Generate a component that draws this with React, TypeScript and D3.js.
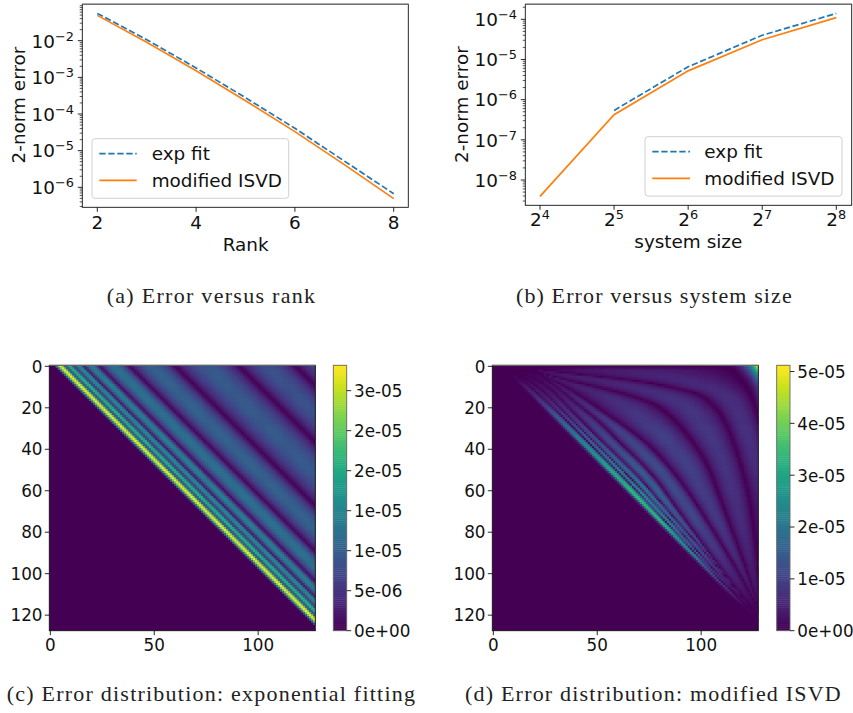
import React, { useEffect, useRef } from "react";
import * as d3 from "d3";

// ---- line charts ----
const ranks = [2, 3, 4, 5, 6, 7, 8];
const rankExpFit = [0.0556, 0.01064, 0.0018, 2.79e-4, 4.07e-5, 5.2e-6, 6.7e-7];
const rankIsvd = [0.0491, 0.00901, 0.00152, 2.31e-4, 3.3e-5, 4.15e-6, 4.9e-7];
const sizes = [16, 32, 64, 128, 256];
const sizeExpFitSizes = [32, 64, 128, 256];
const sizeExpFit = [5.4e-7, 6.6e-6, 4.0e-5, 1.4e-4];
const sizeIsvd = [3.9e-9, 4.2e-7, 5.2e-6, 3.1e-5, 1.1e-4];
const rankTicks = [2, 4, 6, 8];
const rankDecades = [-2, -3, -4, -5, -6];
const sizeExponents = [4, 5, 6, 7, 8];
const sizeDecades = [-4, -5, -6, -7, -8];
const legendLabels = ["exp fit", "modified ISVD"];
const captions = [
  "(a) Error versus rank",
  "(b) Error versus system size",
  "(c) Error distribution: exponential fitting",
  "(d) Error distribution: modified ISVD",
];

// ---- heatmaps ----
// A 128x128 field cannot be read cell by cell, so the cells are rebuilt from what can
// be read: the dark node lines between the stripes and the peak value of each stripe.
const N = 128;
const heatXTicks = [0, 50, 100];
const heatYTicks = [0, 20, 40, 60, 80, 100, 120];
const lobeProfile = [0, 0.42, 0.72, 0.92, 1, 0.92, 0.72, 0.42, 0];

// (c): depends on the offset column - row only
const cNodeOffsets = [2.6, 7.4, 11.4, 16.2, 23.5, 38, 60, 91, 118, 150];
const cLobePeaks = [3.32e-5, 2.25e-5, 1.65e-5, 1.45e-5, 1.25e-5, 1.05e-5, 9.5e-6, 8.5e-6, 9e-6];
const cMax = 3.317e-5;
const cBarValues = [0, 5e-6, 1e-5, 1.5e-5, 2e-5, 2.5e-5, 3e-5];
const cBarLabels = ["0e+00", "5e-06", "1e-05", "1e-05", "2e-05", "2e-05", "3e-05"];

// (d): node lines as [col, row], from the diagonal outwards
const dEdgeOffset = 3.8;
const dNode0 = [[12, 5], [23.5, 15], [35, 26], [64.2, 55], [83, 75], [95.5, 88.5], [107, 101], [122, 116]];
const dNode1 = [[14, 5], [21, 9], [38.4, 26.4], [67, 55], [86, 75], [97.2, 88.2], [109, 101.5], [122, 115.5]];
const dNode2 = [[15, 4], [24, 7], [42.4, 26.4], [71, 54.5], [88.5, 75], [100.8, 88.2], [111.5, 101.5], [122.2, 115]];
const dNode3 = [[26, 6], [40, 18], [51, 26.4], [61.5, 37.6], [69.5, 44.9], [78.5, 54.5], [85.6, 65], [98.4, 82.6], [111.2, 100.3], [123, 115]];
const dNode4 = [[24, 4], [40, 13], [61.5, 28], [71, 34.4], [80.7, 44], [88.8, 53.7], [96.8, 65], [108, 82.6], [117.7, 98.7], [124.9, 111.6]];
const dNode5 = [[22, 3], [40, 8], [61.5, 12.7], [71, 14.3], [82.3, 20.7], [93.6, 32.8], [103.2, 47.3], [109.6, 65], [118.5, 89], [124, 105], [127, 114]];
const dNode6 = [[20, 1.5], [53.5, 5.5], [82.3, 7.9], [96.8, 11.1], [108, 19.9], [114.4, 32.8], [120, 50.5], [123.3, 65], [126.5, 89], [128, 108.4]];
const dNode7 = [[114, 0], [115, 1], [120.5, 7.9], [125, 16], [127.6, 24.8]];
const dPeakRows = [0, 2, 5, 15, 30, 45, 60, 75, 90, 105, 115, 127];
const dPeaks0 = [0, 0, 0.05, 0.7, 2.0, 3.0, 3.6, 3.5, 2.5, 1.0, 0.1, 0];
const dPeaks1 = [0, 0, 0.04, 0.5, 1.3, 2.1, 2.6, 2.4, 1.6, 0.6, 0.1, 0];
const dPeaks2 = [0, 0, 0.06, 0.45, 1.1, 1.7, 2.1, 1.9, 1.2, 0.5, 0.1, 0];
const dPeaks3 = [0, 0.02, 0.1, 0.45, 1.0, 1.4, 1.6, 1.4, 1.0, 0.5, 0.1, 0];
const dPeaks4 = [0, 0.05, 0.2, 0.55, 1.0, 1.2, 1.2, 1.1, 0.8, 0.4, 0.1, 0];
const dPeaks5 = [0, 0.1, 0.3, 0.65, 0.95, 1.0, 0.95, 0.85, 0.65, 0.35, 0.1, 0];
const dPeaks6 = [0, 0.2, 0.45, 0.75, 0.85, 0.8, 0.75, 0.65, 0.5, 0.3, 0.1, 0];
const dPeaks7 = [0, 0.45, 0.55, 0.7, 0.75, 0.7, 0.6, 0.5, 0.4, 0.25, 0.1, 0];
const dCornerRows = [0, 3, 6, 10, 16, 25];
const dCornerPeaks = [5.12, 3.4, 2.1, 1.1, 0.6, 0.1];
const dCornerProfile = [0, 0.03, 0.07, 0.13, 0.22, 0.33, 0.5, 0.72, 1];
const dMax = 5.12e-5;
const dBarValues = [0, 1e-5, 2e-5, 3e-5, 4e-5, 5e-5];
const dBarLabels = ["0e+00", "1e-05", "2e-05", "3e-05", "4e-05", "5e-05"];

const SANS = "'DejaVu Sans', sans-serif";
const SERIF = "'Liberation Serif', serif";
const BLUE = "#1f77b4";
const ORANGE = "#ff7f0e";
const INK = "#111";
const FS = 18.4;
const SUP = 12.9;

const unitScale = (profile: number[]) =>
  d3.scaleLinear().domain(profile.map((_, i) => i / (profile.length - 1))).range(profile).clamp(true);
const lobeAt = unitScale(lobeProfile);
const cornerAt = unitScale(dCornerProfile);
const nodeScale = (pts: number[][]) =>
  d3.scaleLinear().domain(pts.map((p) => p[1])).range(pts.map((p) => p[0]));

function cValue(r: number, c: number) {
  const d = c - r;
  if (d <= cNodeOffsets[0]) return 0;
  const k = d3.bisectRight(cNodeOffsets, d) - 1;
  const t = (d - cNodeOffsets[k]) / (cNodeOffsets[k + 1] - cNodeOffsets[k]);
  return cLobePeaks[k] * lobeAt(t);
}

const dNodeScales = [dNode0, dNode1, dNode2, dNode3, dNode4, dNode5, dNode6, dNode7].map(nodeScale);
const dPeakScales = [dPeaks0, dPeaks1, dPeaks2, dPeaks3, dPeaks4, dPeaks5, dPeaks6, dPeaks7].map((p) =>
  d3.scaleLinear().domain(dPeakRows).range(p).clamp(true)
);
const dCornerScale = d3.scaleLinear().domain(dCornerRows).range(dCornerPeaks).clamp(true);
const smoothSteps = [-1, -0.75, -0.5, -0.25, 0, 0.25, 0.5, 0.75, 1];

// node lines are read as a few points; take out the corners between those points
function smoothed(s: (r: number) => number, r: number) {
  const w = Math.min(5, 0.5 * r);
  return d3.mean(smoothSteps, (k) => s(r + k * w))!;
}

const dBoundsByRow = d3.range(N).map((r) => {
  const bounds = [r + dEdgeOffset];
  dNodeScales.forEach((s) => bounds.push(Math.max(bounds[bounds.length - 1], smoothed(s, r))));
  return bounds;
});

function dValue(r: number, c: number) {
  const bounds = dBoundsByRow[r];
  if (c <= bounds[0]) return 0;
  const k = d3.bisectRight(bounds, c) - 1;
  if (k >= bounds.length - 1) {
    if (r > 25) return 0;
    const b = bounds[bounds.length - 1];
    return dCornerScale(r) * 1e-5 * cornerAt((c - b) / (127.5 - b));
  }
  const t = (c - bounds[k]) / (bounds[k + 1] - bounds[k]);
  return dPeakScales[k](r) * 1e-5 * lobeAt(t);
}

function Heat({ x0, x1, y0, y1, value, vmax }: any) {
  const ref = useRef<SVGGElement>(null);
  useEffect(() => {
    const g = d3.select(ref.current);
    const xs = d3.scaleLinear().domain([-0.5, N - 0.5]).range([x0, x1]);
    const ys = d3.scaleLinear().domain([-0.5, N - 0.5]).range([y0, y1]);
    const color = d3.scaleSequential(d3.interpolateViridis).domain([0, vmax]);
    g.selectAll("*").remove();
    g.append("rect").attr("x", x0).attr("y", y0).attr("width", x1 - x0).attr("height", y1 - y0).attr("fill", color(0));
    const cells: [number, number, number][] = [];
    for (let r = 0; r < N; r++)
      for (let c = 0; c < N; c++) {
        const v = value(r, c);
        if (v > vmax * 0.002) cells.push([r, c, v]);
      }
    const w = xs(1) - xs(0);
    const h = ys(1) - ys(0);
    g.selectAll("rect.cell")
      .data(cells)
      .enter()
      .append("rect")
      .attr("class", "cell")
      .attr("x", (d) => xs(d[1] - 0.5))
      .attr("y", (d) => ys(d[0] - 0.5))
      .attr("width", (d) => Math.min(w + 0.5, x1 - xs(d[1] - 0.5)))
      .attr("height", (d) => Math.min(h + 0.5, y1 - ys(d[0] - 0.5)))
      .attr("fill", (d) => color(d[2]));
  }, []);
  return <g ref={ref} />;
}

function HeatPanel({ x0, x1, y0, y1, bx0, bx1, value, vmax, barValues, barLabels }: any) {
  const xs = d3.scaleLinear().domain([-0.5, N - 0.5]).range([x0, x1]);
  const ys = d3.scaleLinear().domain([-0.5, N - 0.5]).range([y0, y1]);
  const bar = d3.scaleLinear().domain([0, vmax]).range([y1, y0]);
  const barSteps = d3.range(128).map((i) => (i * vmax) / 128);
  const stepH = (y1 - y0) / 128;
  const color = d3.scaleSequential(d3.interpolateViridis).domain([0, vmax * (127 / 128)]);
  return (
    <g fontFamily={SANS} fontSize={16.8} fill={INK}>
      <Heat x0={x0} x1={x1} y0={y0} y1={y1} value={value} vmax={vmax} />
      <rect x={x0} y={y0} width={x1 - x0} height={y1 - y0} fill="none" stroke={INK} strokeWidth={0.9} />
      <line x1={x0} x2={x1} y1={y0} y2={y0} stroke="#777" strokeWidth={1} />
      {heatXTicks.map((t) => (
        <g key={t}>
          <line x1={xs(t)} x2={xs(t)} y1={y1} y2={y1 + 4.5} stroke={INK} strokeWidth={0.9} />
          <text x={xs(t)} y={y1 + 20.4} textAnchor="middle">{t}</text>
        </g>
      ))}
      {heatYTicks.map((t) => (
        <g key={t}>
          <line x1={x0 - 4.5} x2={x0} y1={ys(t)} y2={ys(t)} stroke={INK} strokeWidth={0.9} />
          <text x={x0 - 6.8} y={ys(t) + 6.2} textAnchor="end">{t}</text>
        </g>
      ))}
      {barSteps.map((v, i) => (
        <rect key={i} x={bx0} width={bx1 - bx0} y={bar(v) - stepH - 0.4} height={stepH + 0.4} fill={color(v)} />
      ))}
      <rect x={bx0} y={y0} width={bx1 - bx0} height={y1 - y0} fill="none" stroke="#666" strokeWidth={0.9} />
      {barValues.map((v: number, i: number) => (
        <g key={i}>
          <line x1={bx1} x2={bx1 + 4.5} y1={bar(v)} y2={bar(v)} stroke={INK} strokeWidth={0.9} />
          <text x={bx1 + 7.3} y={bar(v) + 6.4}>{barLabels[i]}</text>
        </g>
      ))}
    </g>
  );
}

function Power({ x, y, base, exp, anchor }: any) {
  return (
    <text x={x} y={y} textAnchor={anchor} fontSize={FS}>
      {base}
      <tspan dy={-7} fontSize={SUP}>{exp}</tspan>
    </text>
  );
}

function Legend({ x, y, w, h, hx0, hx1, yDash, ySolid, tx, b0, b1 }: any) {
  return (
    <g>
      <rect x={x} y={y} width={w} height={h} rx={3} fill="#fff" fillOpacity={0.85} stroke="#ccc" strokeWidth={0.9} />
      <line x1={hx0} x2={hx1} y1={yDash} y2={yDash} stroke={BLUE} strokeWidth={1.7} strokeDasharray="6.3,2.7" />
      <line x1={hx0} x2={hx1} y1={ySolid} y2={ySolid} stroke={ORANGE} strokeWidth={1.7} />
      <text x={tx} y={b0}>{legendLabels[0]}</text>
      <text x={tx} y={b1}>{legendLabels[1]}</text>
    </g>
  );
}

function minorTicks(decades: number[], y: (v: number) => number, top: number, bottom: number) {
  const out: number[] = [];
  const lo = d3.min(decades)! - 1;
  const hi = d3.max(decades)! + 1;
  for (let e = lo; e <= hi; e++)
    for (let k = 2; k <= 9; k++) {
      const p = y(k * Math.pow(10, e));
      if (p >= top && p <= bottom) out.push(p);
    }
  return out;
}

function PanelA() {
  const [x0, x1, y0, y1] = [82.3, 408.3, 4.2, 207.3];
  const x = d3.scaleLinear().domain([2, 8]).range([97.3, 393.7]);
  const y = d3.scaleLog().domain([1e-2, 1e-6]).range([40.7, 187.3]);
  const path = (vals: number[]) => d3.line<number>().x((_, i) => x(ranks[i])).y((v) => y(v))(vals)!;
  return (
    <g fontFamily={SANS} fontSize={FS} fill={INK}>
      <path d={path(rankExpFit)} fill="none" stroke={BLUE} strokeWidth={1.7} strokeDasharray="6.3,2.7" />
      <path d={path(rankIsvd)} fill="none" stroke={ORANGE} strokeWidth={1.7} />
      <rect x={x0} y={y0} width={x1 - x0} height={y1 - y0} fill="none" stroke={INK} strokeWidth={0.9} />
      <line x1={x0} x2={x1} y1={y0} y2={y0} stroke="#777" strokeWidth={1} />
      {rankTicks.map((t) => (
        <g key={t}>
          <line x1={x(t)} x2={x(t)} y1={y1} y2={y1 + 4.5} stroke={INK} strokeWidth={0.9} />
          <text x={x(t)} y={228.7} textAnchor="middle">{t}</text>
        </g>
      ))}
      {rankDecades.map((e) => (
        <g key={e}>
          <line x1={x0 - 4.5} x2={x0} y1={y(Math.pow(10, e))} y2={y(Math.pow(10, e))} stroke={INK} strokeWidth={0.9} />
          <Power x={74} y={y(Math.pow(10, e)) + 6.8} base="10" exp={`\u2212${-e}`} anchor="end" />
        </g>
      ))}
      {minorTicks(rankDecades, (v) => y(v), y0, y1).map((p, i) => (
        <line key={i} x1={x0 - 2.6} x2={x0} y1={p} y2={p} stroke={INK} strokeWidth={0.7} />
      ))}
      <text x={245.7} y={250.7} textAnchor="middle">Rank</text>
      <text transform="translate(25,105) rotate(-90)" textAnchor="middle">2-norm error</text>
      <Legend x={92} y={138.7} w={196.7} h={59.6} hx0={99.3} hx1={136.7} yDash={153.7} ySolid={180.3} tx={151.7} b0={160} b1={187} />
    </g>
  );
}

function PanelB() {
  const [x0, x1, y0, y1] = [525.3, 851.7, 4.2, 205.3];
  const x = d3.scaleLog().base(2).domain([16, 256]).range([540, 836.3]);
  const y = d3.scaleLog().domain([1e-4, 1e-8]).range([19.3, 180]);
  const isvd = d3.line<number>().x((_, i) => x(sizes[i])).y((v) => y(v))(sizeIsvd)!;
  const fit = d3.line<number>().x((_, i) => x(sizeExpFitSizes[i])).y((v) => y(v))(sizeExpFit)!;
  return (
    <g fontFamily={SANS} fontSize={FS} fill={INK}>
      <path d={fit} fill="none" stroke={BLUE} strokeWidth={1.7} strokeDasharray="6.3,2.7" />
      <path d={isvd} fill="none" stroke={ORANGE} strokeWidth={1.7} />
      <rect x={x0} y={y0} width={x1 - x0} height={y1 - y0} fill="none" stroke={INK} strokeWidth={0.9} />
      <line x1={x0} x2={x1} y1={y0} y2={y0} stroke="#777" strokeWidth={1} />
      {sizeExponents.map((e) => (
        <g key={e}>
          <line x1={x(Math.pow(2, e))} x2={x(Math.pow(2, e))} y1={y1} y2={y1 + 4.5} stroke={INK} strokeWidth={0.9} />
          <Power x={x(Math.pow(2, e))} y={226} base="2" exp={String(e)} anchor="middle" />
        </g>
      ))}
      {sizeDecades.map((e) => (
        <g key={e}>
          <line x1={x0 - 4.5} x2={x0} y1={y(Math.pow(10, e))} y2={y(Math.pow(10, e))} stroke={INK} strokeWidth={0.9} />
          <Power x={517} y={y(Math.pow(10, e)) + 6.8} base="10" exp={`\u2212${-e}`} anchor="end" />
        </g>
      ))}
      {minorTicks(sizeDecades, (v) => y(v), y0, y1).map((p, i) => (
        <line key={i} x1={x0 - 2.6} x2={x0} y1={p} y2={p} stroke={INK} strokeWidth={0.7} />
      ))}
      <text x={688.3} y={248.3} textAnchor="middle">system size</text>
      <text transform="translate(467.7,104.7) rotate(-90)" textAnchor="middle">2-norm error</text>
      <Legend x={645} y={136.7} w={197} h={59.4} hx0={652.3} hx1={690} yDash={151.7} ySolid={178.3} tx={704.3} b0={158} b1={185} />
    </g>
  );
}

const captionBoxes = [
  [106.7, 208.3, 303.3],
  [516, 275.7, 303.3],
  [6.7, 408.3, 700.7],
  [465, 375.7, 700.7],
];

export default function App() {
  return (
    <svg width={853} height={713} viewBox="0 0 853 713" style={{ position: "absolute", left: 0, top: 0, background: "#fff" }}>
      <PanelA />
      <PanelB />
      <HeatPanel x0={49.3} x1={315.3} y0={365.3} y1={630.7} bx0={333.3} bx1={346.7} value={cValue} vmax={cMax} barValues={cBarValues} barLabels={cBarLabels} />
      <HeatPanel x0={492.3} x1={758.3} y0={365.3} y1={630.7} bx0={776.7} bx1={790} value={dValue} vmax={dMax} barValues={dBarValues} barLabels={dBarLabels} />
      {captions.map((t, i) => (
        <text key={i} x={captionBoxes[i][0]} y={captionBoxes[i][2]} textLength={captionBoxes[i][1]} lengthAdjust="spacing" fontFamily={SERIF} fontSize={22} fill="#222">
          {t}
        </text>
      ))}
    </svg>
  );
}
